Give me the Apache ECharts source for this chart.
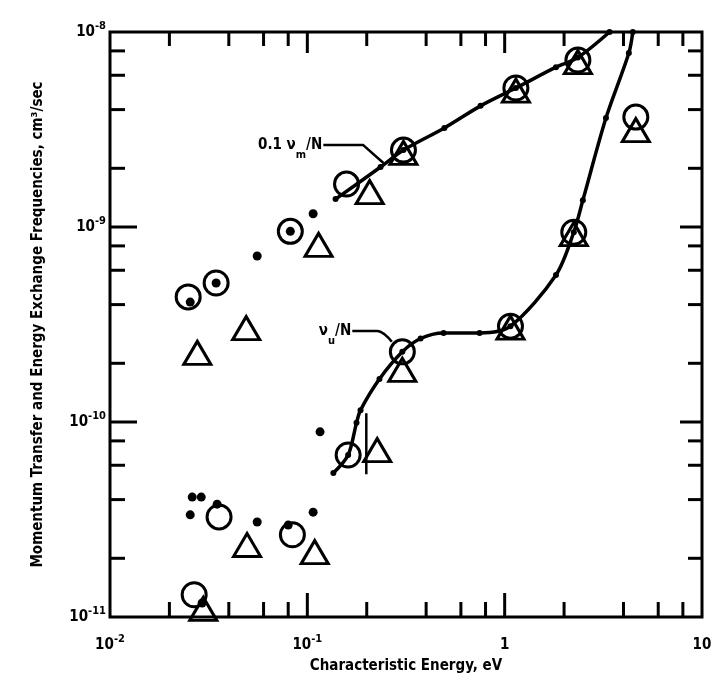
<!DOCTYPE html>
<html>
<head>
<meta charset="utf-8">
<title>Momentum Transfer and Energy Exchange Frequencies</title>
<script src="https://cdn.jsdelivr.net/npm/echarts@6/dist/echarts.min.js"></script>
<style>
    html, body { margin: 0; padding: 0; background: #fff; }
    #chart { width: 715px; height: 690px; }
</style>
</head>
<body>
<div id="chart"></div>
<script>
// values: [characteristic energy (eV), frequency (cm^3/sec)]
var circleData = [
    [0.0249, 4.38e-10], [0.0345, 5.16e-10], [0.082, 9.5e-10], [0.158, 1.66e-9],
    [0.307, 2.48e-9], [1.14, 5.16e-9], [2.35, 7.18e-9], [4.62, 3.66e-9],
    [0.161, 6.77e-11], [0.303, 2.29e-10], [1.07, 3.1e-10], [2.24, 9.4e-10],
    [0.0357, 3.26e-11], [0.084, 2.64e-11], [0.0267, 1.3e-11]
];
var triangleData = [
    [0.0277, 2.26e-10], [0.049, 3.03e-10], [0.114, 8.1e-10], [0.207, 1.51e-9],
    [0.307, 2.4e-9], [1.14, 5.0e-9], [2.35, 7.0e-9], [4.62, 3.14e-9],
    [0.226, 7.18e-11], [0.303, 1.85e-10], [1.07, 3.05e-10], [2.24, 9.2e-10],
    [0.0495, 2.34e-11], [0.109, 2.15e-11], [0.0297, 1.1e-11]
];
var dotData = [
    [0.0255, 4.12e-10], [0.0345, 5.16e-10], [0.082, 9.5e-10], [0.0557, 7.1e-10],
    [0.107, 1.17e-9], [0.116, 8.9e-11],
    [0.0261, 4.12e-11], [0.029, 4.12e-11], [0.0255, 3.34e-11], [0.0349, 3.79e-11],
    [0.0557, 3.07e-11], [0.080, 2.96e-11], [0.107, 3.45e-11], [0.0293, 1.18e-11]
];
// 0.1 vm/N curve
var vmCurve = [
    [0.139, 1.39e-9], [0.235, 2.03e-9], [0.307, 2.48e-9], [0.495, 3.22e-9],
    [0.755, 4.18e-9], [1.14, 5.16e-9], [1.82, 6.6e-9], [2.35, 7.4e-9], [3.4, 1.0e-8]
];
// vu/N curve
var vuCurve = [
    [0.1355, 5.47e-11], [0.161, 6.77e-11], [0.1775, 9.9e-11], [0.186, 1.15e-10],
    [0.232, 1.66e-10], [0.303, 2.29e-10], [0.375, 2.68e-10], [0.49, 2.86e-10],
    [0.746, 2.86e-10], [1.07, 3.1e-10], [1.82, 5.67e-10], [2.24, 9.4e-10],
    [2.49, 1.37e-9], [3.26, 3.62e-9], [4.26, 7.8e-9], [4.46, 1.0e-8]
];
var errorBar = [[0.199, 5.4e-11], [0.199, 1.11e-10]];
var vmLeader = [[0.1205, 2.63e-9], [0.192, 2.63e-9], [0.243, 2.13e-9]];
var vuLeader = [[0.169, 2.93e-10], [0.226, 2.93e-10], [0.25, 2.78e-10], [0.268, 2.58e-10]];

var xRange = [0.01, 10];
var yRange = [1e-11, 1e-8];
var xMajorTicks = [0.1, 1];
var xMinorTicks = [0.02, 0.04, 0.06, 0.08, 0.2, 0.4, 0.6, 0.8, 2, 4, 6, 8];
var yMajorTicks = [1e-10, 1e-9];
var yMinorTicks = [2e-11, 4e-11, 6e-11, 8e-11, 2e-10, 4e-10, 6e-10, 8e-10, 2e-9, 4e-9, 6e-9, 8e-9];

(function () {
    var font = 'DejaVu Sans Condensed';

    var chart = {
        init() {
            this.myChart = echarts.init(document.getElementById('chart'));
            this.myChart.setOption(this.getOption());
        },
        // 10^n as rich text, plain 1 and 10
        powerLabel(value) {
            var n = Math.round(Math.log(value) / Math.LN10);
            if (n === 0) return '{b|1}';
            if (n === 1) return '{b|10}';
            return '{b|10}{s|' + n + '}';
        },
        tickData() {
            var list = [];
            xMinorTicks.forEach(function (v) { list.push([v, yRange[0], 0, 0]); });
            xMajorTicks.forEach(function (v) { list.push([v, yRange[0], 0, 1]); });
            yMinorTicks.forEach(function (v) { list.push([xRange[0], v, 1, 0]); });
            yMajorTicks.forEach(function (v) { list.push([xRange[0], v, 1, 1]); });
            return list;
        },
        renderTick(params, api) {
            var kind = api.value(2);
            var major = api.value(3);
            var style = { stroke: '#000', lineWidth: 3 };
            var a, b;
            if (kind === 0) {
                var bottom = api.coord([api.value(0), yRange[0]]);
                var top = api.coord([api.value(0), yRange[1]]);
                a = { x1: bottom[0], y1: bottom[1], x2: bottom[0], y2: bottom[1] - (major ? 24 : 15) };
                b = { x1: top[0], y1: top[1], x2: top[0], y2: top[1] + (major ? 21 : 14) };
            } else {
                var left = api.coord([xRange[0], api.value(1)]);
                var right = api.coord([xRange[1], api.value(1)]);
                a = { x1: left[0], y1: left[1], x2: left[0] + (major ? 27 : 15), y2: left[1] };
                b = { x1: right[0], y1: right[1], x2: right[0] - (major ? 22 : 14), y2: right[1] };
            }
            return {
                type: 'group',
                children: [
                    { type: 'line', shape: a, style: style },
                    { type: 'line', shape: b, style: style }
                ]
            };
        },
        getOption() {
            var This = this;
            var labelRich = {
                b: { fontFamily: font, fontWeight: 'bold', fontSize: 15, color: '#000', lineHeight: 22 },
                s: { fontFamily: font, fontWeight: 'bold', fontSize: 11, color: '#000', verticalAlign: 'top', lineHeight: 12 }
            };
            var noteRich = {
                t: { fontFamily: font, fontWeight: 'bold', fontSize: 15, color: '#000', lineHeight: 20 },
                u: { fontFamily: font, fontWeight: 'bold', fontSize: 11, color: '#000', verticalAlign: 'bottom', lineHeight: 12, padding: [0, 0, -6, 0] }
            };
            var openStyle = { color: 'rgba(0,0,0,0)', borderColor: '#000', borderWidth: 3, opacity: 1 };

            return {
                animation: false,
                backgroundColor: '#fff',
                grid: {
                    left: 110, right: 13, top: 32, bottom: 73,
                    show: true, borderColor: '#000', borderWidth: 3
                },
                xAxis: {
                    type: 'log', logBase: 10, min: xRange[0], max: xRange[1],
                    name: 'Characteristic Energy, eV',
                    nameLocation: 'middle', nameGap: 42,
                    nameTextStyle: { fontFamily: font, fontWeight: 'bold', fontSize: 15, color: '#000' },
                    axisLine: { show: false },
                    axisTick: { show: false },
                    minorTick: { show: false },
                    splitLine: { show: false },
                    axisLabel: {
                        margin: 17,
                        formatter: function (v) { return This.powerLabel(v); },
                        rich: labelRich
                    }
                },
                yAxis: {
                    type: 'log', logBase: 10, min: yRange[0], max: yRange[1],
                    name: 'Momentum Transfer and Energy Exchange Frequencies, cm³/sec',
                    nameLocation: 'middle', nameGap: 64,
                    nameTextStyle: { fontFamily: font, fontWeight: 'bold', fontSize: 15, color: '#000' },
                    axisLine: { show: false },
                    axisTick: { show: false },
                    minorTick: { show: false },
                    splitLine: { show: false },
                    axisLabel: {
                        margin: 4,
                        formatter: function (v) { return This.powerLabel(v); },
                        rich: labelRich
                    }
                },
                series: [
                    {
                        name: 'ticks', type: 'custom', silent: true, clip: false,
                        renderItem: function (params, api) { return This.renderTick(params, api); },
                        data: this.tickData(), z: 1
                    },
                    {
                        name: '0.1 vm/N', type: 'line', data: vmCurve, smooth: 0.3,
                        symbol: 'circle', symbolSize: 6, showAllSymbol: true,
                        lineStyle: { color: '#000', width: 3.5 }, itemStyle: { color: '#000' }
                    },
                    {
                        name: 'vu/N', type: 'line', data: vuCurve, smooth: 0.3,
                        symbol: 'circle', symbolSize: 6, showAllSymbol: true,
                        lineStyle: { color: '#000', width: 3.5 }, itemStyle: { color: '#000' }
                    },
                    {
                        name: 'error bar', type: 'line', data: errorBar, symbol: 'none',
                        lineStyle: { color: '#000', width: 2.5 }
                    },
                    {
                        name: 'vm leader', type: 'line', data: vmLeader, symbol: 'none',
                        lineStyle: { color: '#000', width: 2.5 }
                    },
                    {
                        name: 'vu leader', type: 'line', data: vuLeader, symbol: 'none', smooth: 0.4,
                        lineStyle: { color: '#000', width: 2.5 }
                    },
                    {
                        name: 'notes', type: 'scatter', symbolSize: 0, silent: true,
                        itemStyle: { opacity: 1 },
                        data: [
                            { value: vmLeader[0], label: { formatter: '{t|0.1 ν}{u|m}{t|/N}' } },
                            { value: vuLeader[0], label: { formatter: '{t|ν}{u|u}{t|/N}' } }
                        ],
                        label: { show: true, position: 'left', distance: 1, color: '#000', opacity: 1, rich: noteRich }
                    },
                    {
                        name: 'circles', type: 'scatter', data: circleData, clip: false,
                        symbol: 'circle', symbolSize: 24, itemStyle: openStyle
                    },
                    {
                        name: 'triangles', type: 'scatter', data: triangleData, clip: false,
                        symbol: 'triangle', symbolSize: [27, 23], itemStyle: openStyle
                    },
                    {
                        name: 'dots', type: 'scatter', data: dotData, clip: false,
                        symbol: 'circle', symbolSize: 9, itemStyle: { color: '#000', opacity: 1 }
                    }
                ]
            };
        }
    };

    chart.init();
})();
</script>
</body>
</html>
